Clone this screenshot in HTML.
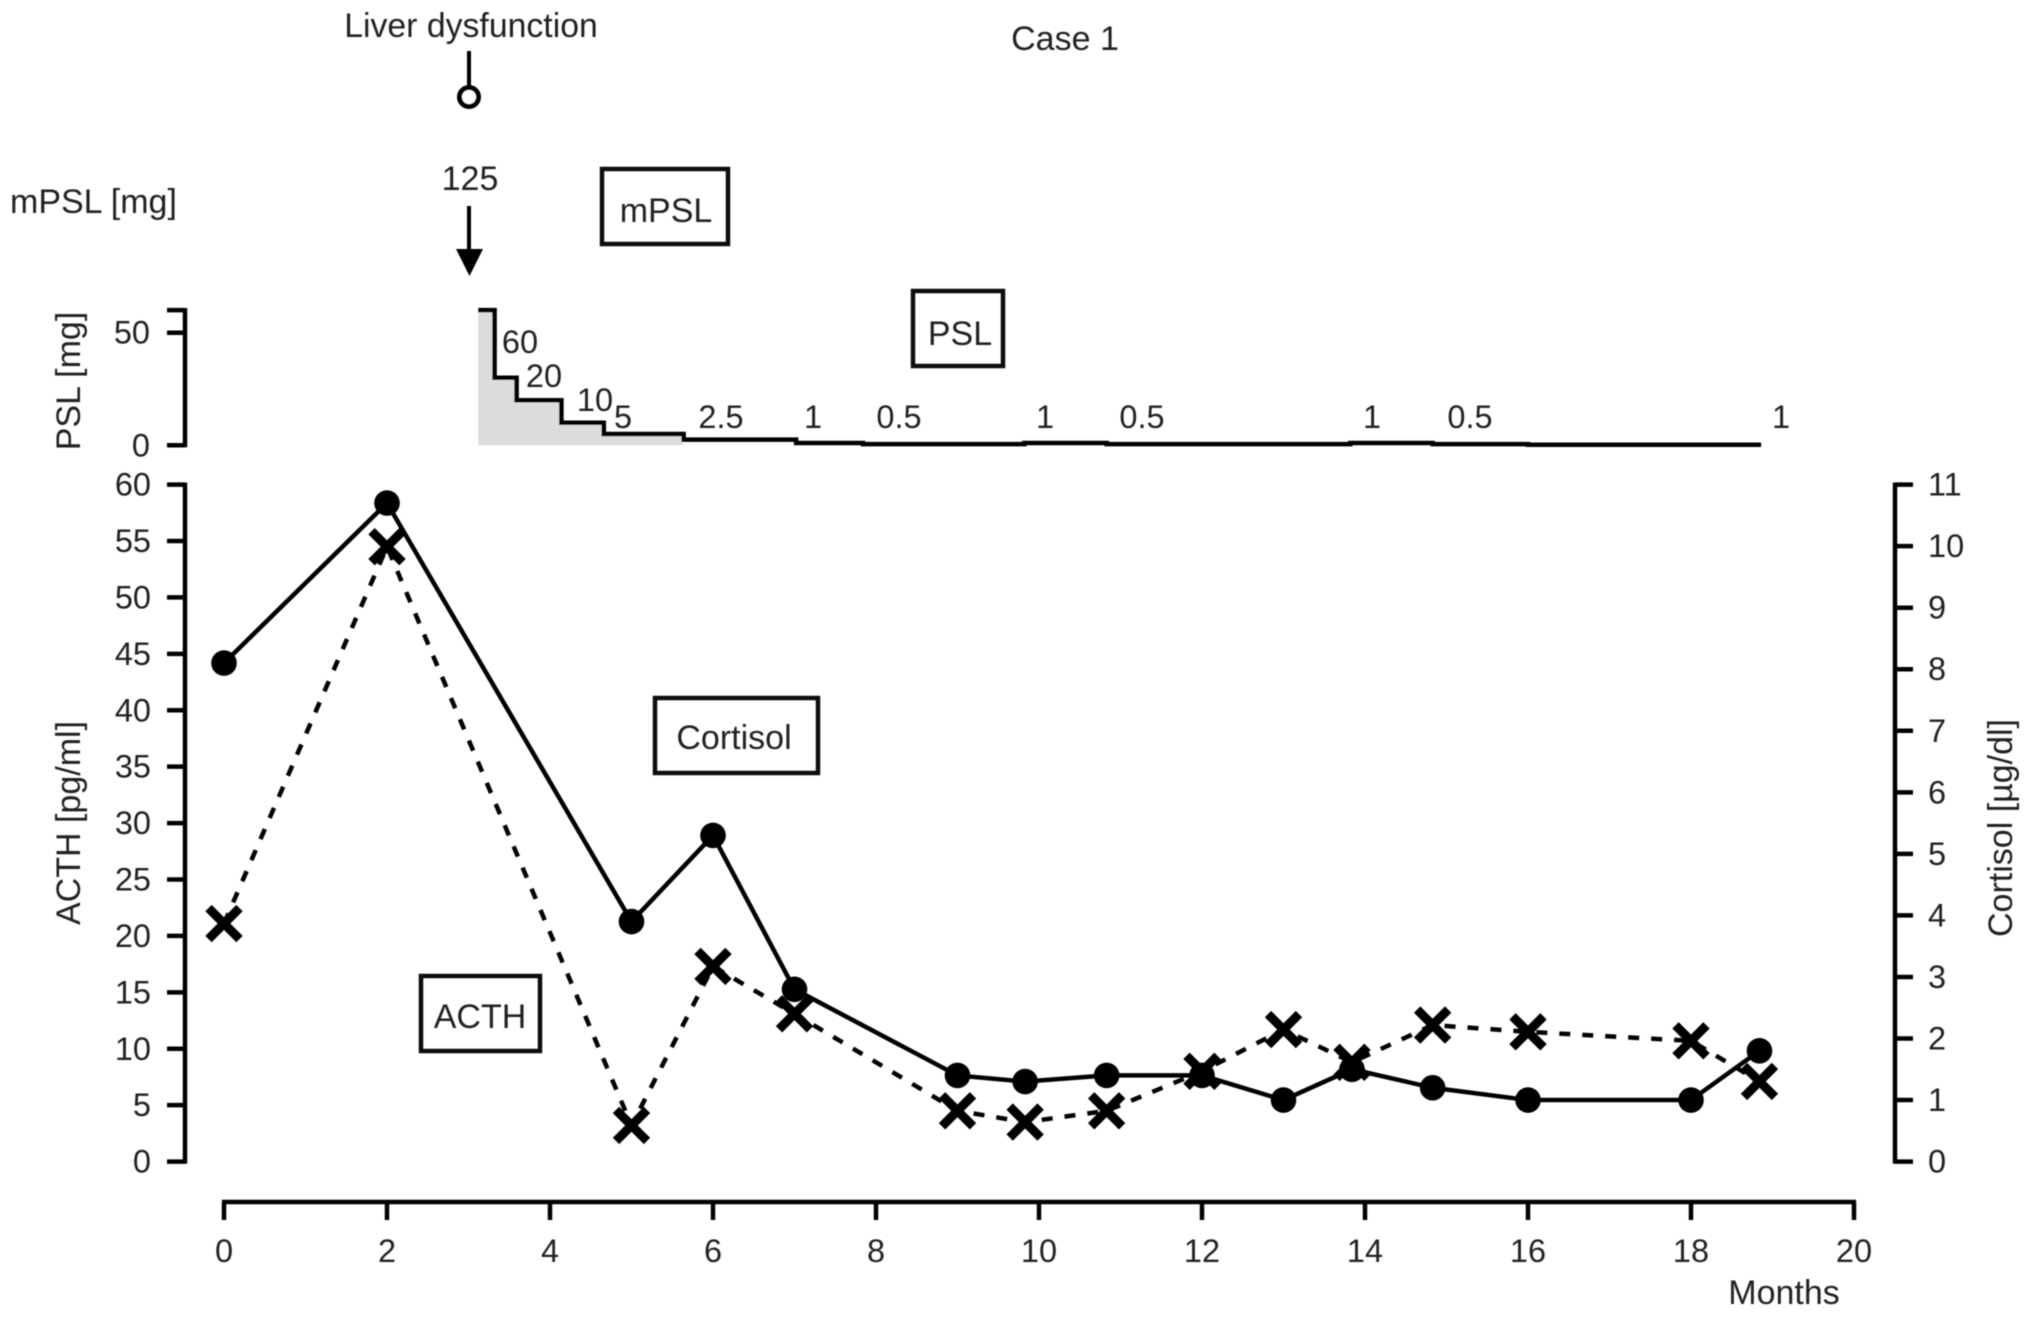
<!DOCTYPE html>
<html lang="en">
<head>
<meta charset="utf-8">
<title>Case 1 - ACTH and Cortisol</title>
<style>
html,body{margin:0;padding:0;background:#fff;}
svg{display:block;}
text{font-family:"Liberation Sans",sans-serif;font-size:32.5px;fill:#222;}
text.big{font-size:34px;}
</style>
</head>
<body>
<svg id="chart" xmlns="http://www.w3.org/2000/svg" width="2032" height="1317" viewBox="0 0 2032 1317">
  <g filter="url(#soft)" id="root">
    <text class="big" x="1065" y="50" text-anchor="middle">Case 1</text>
    <text class="big" style="font-size:33.8px" x="471" y="37" text-anchor="middle">Liver dysfunction</text>
    <line x1="469" y1="51" x2="469" y2="87" stroke="#000" stroke-width="4"/>
    <circle cx="469" cy="97" r="9.5" fill="#fff" stroke="#000" stroke-width="5"/>
    <text class="big" x="10" y="213">mPSL [mg]</text>
    <text class="big" x="470" y="190" text-anchor="middle">125</text>
    <line x1="469" y1="206" x2="469" y2="252" stroke="#000" stroke-width="4"/>
    <polygon points="456,249 483,249 469.5,276" fill="#000"/>

    <rect x="602" y="169" width="126" height="75" fill="none" stroke="#111" stroke-width="4.5"/>
    <text class="big" x="666" y="222" text-anchor="middle">mPSL</text>
    <rect x="913" y="291" width="90" height="75" fill="none" stroke="#111" stroke-width="4.5"/>
    <text class="big" x="960" y="345" text-anchor="middle">PSL</text>
    <rect x="655" y="698" width="163" height="75" fill="none" stroke="#111" stroke-width="4.5"/>
    <text class="big" x="734" y="749" text-anchor="middle">Cortisol</text>
    <rect x="421" y="976" width="119" height="75" fill="none" stroke="#111" stroke-width="4.5"/>
    <text class="big" x="480" y="1028" text-anchor="middle">ACTH</text>

    <text x="520" y="353" text-anchor="middle">60</text>
    <text x="544" y="387" text-anchor="middle">20</text>
    <text x="595" y="411" text-anchor="middle">10</text>
    <text x="623" y="428" text-anchor="middle">5</text>
    <text x="721" y="428" text-anchor="middle">2.5</text>
    <text x="813" y="428" text-anchor="middle">1</text>
    <text x="899" y="428" text-anchor="middle">0.5</text>
    <text x="1045" y="428" text-anchor="middle">1</text>
    <text x="1142" y="428" text-anchor="middle">0.5</text>
    <text x="1372" y="428" text-anchor="middle">1</text>
    <text x="1470" y="428" text-anchor="middle">0.5</text>
    <text x="1781" y="428" text-anchor="middle">1</text>

    <text class="big" transform="translate(80,381) rotate(-90)" text-anchor="middle">PSL [mg]</text>
    <text class="big" transform="translate(80,823) rotate(-90)" text-anchor="middle">ACTH [pg/ml]</text>
    <text class="big" transform="translate(2012,828) rotate(-90)" text-anchor="middle">Cortisol [µg/dl]</text>
    <text class="big" x="1784" y="1304" text-anchor="middle">Months</text>
  </g>
  <defs>
    <filter id="soft" x="0" y="0" width="100%" height="100%" filterUnits="userSpaceOnUse"><feGaussianBlur stdDeviation="0.6"/></filter>
  </defs>
</svg>
<script>
// ---- Data ----
const monthTicks = [0, 2, 4, 6, 8, 10, 12, 14, 16, 18, 20];
const acthTicks = [0, 5, 10, 15, 20, 25, 30, 35, 40, 45, 50, 55, 60];
const cortisolTicks = [0, 1, 2, 3, 4, 5, 6, 7, 8, 9, 10, 11];
const pslTicks = [0, 50];
const pslAxisMax = 60;

const sampleMonths = [0, 2, 5, 6, 7, 9, 9.83, 10.83, 12, 13, 13.84, 14.83, 16, 18, 18.84];
const cortisolValues = [8.1, 10.7, 3.9, 5.3, 2.8, 1.4, 1.3, 1.4, 1.4, 1.0, 1.5, 1.2, 1.0, 1.0, 1.8];
const acthValues = [21.1, 54.5, 3.2, 17.3, 13.1, 4.5, 3.5, 4.5, 8.0, 11.7, 8.8, 12.1, 11.5, 10.7, 7.1];

const pslStepStarts = [3.12, 3.32, 3.59, 4.14, 4.66, 5.64, 7.02, 7.84, 9.82, 10.83, 13.82, 14.83, 16.0];
const pslStepDoses = [60, 30, 20, 10, 5, 2.5, 1, 0.5, 1, 0.5, 1, 0.5, 0.25];
const pslEndMonth = 18.86;
const pslShadeEndMonth = 5.64;

// ---- Axis functions ----
const xOf = m => 224 + (m / 20) * (1854 - 224);
const yActh = v => 1161.6 - (v / 60) * (1161.6 - 484.6);
const yCort = v => 1161.6 - (v / 11) * (1161.6 - 484.6);
const yPsl = v => 445.3 - (v / 50) * (445.3 - 332.7);

const NS = 'http://www.w3.org/2000/svg';
const root = document.getElementById('root');
function add(tag, attrs, text) {
  const el = document.createElementNS(NS, tag);
  for (const k in attrs) el.setAttribute(k, attrs[k]);
  if (text !== undefined) el.textContent = text;
  root.appendChild(el);
  return el;
}
const AXW = 4.5;
let el;

// ---- PSL panel ----
let shade = 'M' + xOf(pslStepStarts[0]) + ' ' + yPsl(0);
let step = '';
pslStepStarts.forEach((s, i) => {
  const end = i + 1 < pslStepStarts.length ? pslStepStarts[i + 1] : pslEndMonth;
  step += (i ? 'L' : 'M') + xOf(s) + ' ' + yPsl(pslStepDoses[i]) + 'L' + xOf(end) + ' ' + yPsl(pslStepDoses[i]);
  if (s < pslShadeEndMonth) {
    shade += 'L' + xOf(s) + ' ' + yPsl(pslStepDoses[i]) + 'L' + xOf(Math.min(end, pslShadeEndMonth)) + ' ' + yPsl(pslStepDoses[i]);
  }
});
shade += 'L' + xOf(pslShadeEndMonth) + ' ' + yPsl(0) + 'Z';
el = add('path', {d: shade, fill: '#dcdcdc', stroke: 'none'});


el = add('path', {d: step, fill: 'none', stroke: '#000', 'stroke-width': 4.5});



el = add('line', {x1: 185, x2: 185, y1: yPsl(pslAxisMax) - 2, y2: yPsl(0) + 2, stroke: '#000', 'stroke-width': AXW});


el = add('line', {x1: 167, x2: 185, y1: yPsl(pslAxisMax), y2: yPsl(pslAxisMax), stroke: '#000', 'stroke-width': AXW});


pslTicks.forEach(t => {
  el = add('line', {x1: 167, x2: 185, y1: yPsl(t), y2: yPsl(t), stroke: '#000', 'stroke-width': AXW});
  
  
  el = add('text', {x: 150, y: yPsl(t) + 11, 'text-anchor': 'end'}, String(t));
  
  
});

// ---- ACTH (left) axis ----
el = add('line', {x1: 185, x2: 185, y1: yActh(60) - 2, y2: yActh(0) + 2, stroke: '#000', 'stroke-width': AXW});


acthTicks.forEach(t => {
  el = add('line', {x1: 167, x2: 185, y1: yActh(t), y2: yActh(t), stroke: '#000', 'stroke-width': AXW});
  
  
  el = add('text', {x: 151, y: yActh(t) + 11, 'text-anchor': 'end'}, String(t));
  
  
});

// ---- Cortisol (right) axis ----
el = add('line', {x1: 1895, x2: 1895, y1: yCort(11) - 2, y2: yCort(0) + 2, stroke: '#000', 'stroke-width': AXW});


cortisolTicks.forEach(t => {
  el = add('line', {x1: 1895, x2: 1913, y1: yCort(t), y2: yCort(t), stroke: '#000', 'stroke-width': AXW});
  
  
  el = add('text', {x: 1928, y: yCort(t) + 11}, String(t));
  
  
});

// ---- Month (x) axis ----
el = add('line', {x1: xOf(0) - 2, x2: xOf(20) + 2, y1: 1202, y2: 1202, stroke: '#000', 'stroke-width': AXW});


monthTicks.forEach(t => {
  el = add('line', {x1: xOf(t), x2: xOf(t), y1: 1202, y2: 1220, stroke: '#000', 'stroke-width': AXW});
  
  
  el = add('text', {x: xOf(t), y: 1262, 'text-anchor': 'middle'}, String(t));
  
  
});

// ---- Series ----
const acthPts = sampleMonths.map((m, i) => xOf(m) + ',' + yActh(acthValues[i])).join(' ');
el = add('polyline', {points: acthPts, fill: 'none', stroke: '#000', 'stroke-width': 4.5, 'stroke-dasharray': '11 12'});



const cortPts = sampleMonths.map((m, i) => xOf(m) + ',' + yCort(cortisolValues[i])).join(' ');
el = add('polyline', {points: cortPts, fill: 'none', stroke: '#000', 'stroke-width': 4.5});



sampleMonths.forEach((m, i) => {
  el = add('circle', {cx: xOf(m), cy: yCort(cortisolValues[i]), r: 12.8, fill: '#000'});
  
  
});

const H = 15.5;
sampleMonths.forEach((m, i) => {
  const x = xOf(m), y = yActh(acthValues[i]);
  el = add('path', {d: 'M' + (x - H) + ' ' + (y - H) + 'L' + (x + H) + ' ' + (y + H) + 'M' + (x + H) + ' ' + (y - H) + 'L' + (x - H) + ' ' + (y + H), fill: 'none', stroke: '#000', 'stroke-width': 9});
  
  
});
</script>
</body>
</html>
